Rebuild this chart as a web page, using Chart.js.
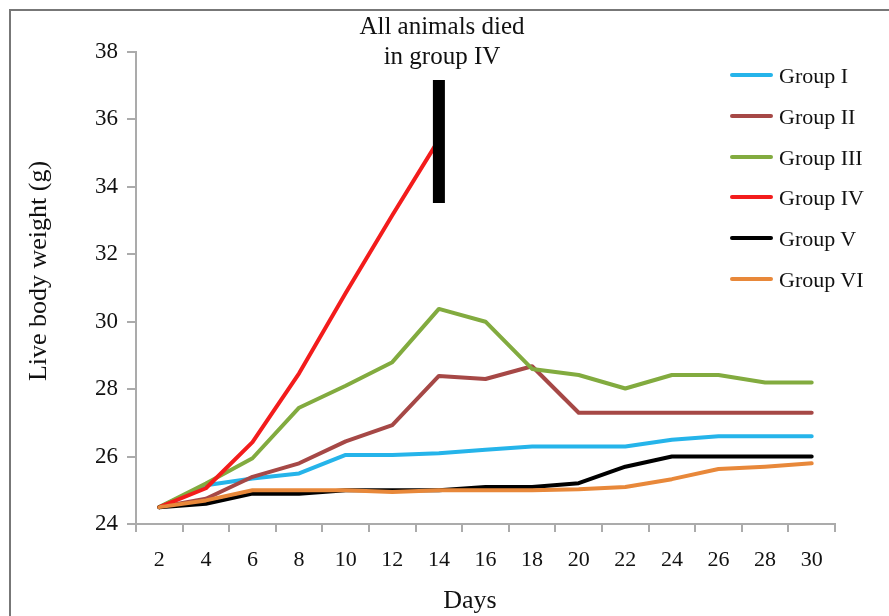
<!DOCTYPE html>
<html>
<head>
<meta charset="utf-8">
<script src="https://cdn.jsdelivr.net/npm/chart.js@4.4.1/dist/chart.umd.min.js"></script>
<style>
  html, body { margin: 0; padding: 0; background: #fff; }
  #wrap { position: relative; width: 889px; height: 616px; overflow: hidden; font-family: "Liberation Serif", "DejaVu Serif", serif; color: #111; }
  #frame { position: absolute; left: 9px; top: 9px; width: 900px; height: 700px; border-left: 2px solid #777; border-top: 2px solid #777; box-sizing: border-box; pointer-events: none; }
  canvas { position: absolute; left: 0; top: 0; }
  .txt { position: absolute; white-space: nowrap; }
  #note { left: 442px; top: 11px; transform: translateX(-50%); text-align: center; font-size: 25px; line-height: 30px; }
  #ytitle { left: 38px; top: 271px; transform: translate(-50%, -50%) rotate(-90deg); font-size: 26px; }
  #xtitle { left: 470px; top: 600px; transform: translate(-50%, -50%); font-size: 26px; }
  #legend { position: absolute; left: 730px; top: 60px; }
  .li { position: absolute; left: 0; height: 30px; width: 160px; }
  .li .sw { position: absolute; left: 0; top: 13px; width: 43px; height: 4px; border-radius: 2px; }
  .li .lb { position: absolute; left: 49px; top: 1px; font-size: 22px; line-height: 30px; }
</style>
</head>
<body>
<div id="wrap">
  <canvas id="c" width="889" height="616"></canvas>
  <div id="frame"></div>
  <div id="note" class="txt">All animals died<br>in group IV</div>
  <div id="ytitle" class="txt">Live body weight (g)</div>
  <div id="xtitle" class="txt">Days</div>
  <div id="legend"></div>
</div>
<script>
const days = ['2','4','6','8','10','12','14','16','18','20','22','24','26','28','30'];
const yTicks = [24, 26, 28, 30, 32, 34, 36, 38];
const groupNames = ['Group I','Group II','Group III','Group IV','Group V','Group VI'];
const groupColors = ['#25b4ea','#a64846','#82ab3f','#f31c1c','#000000','#e8883a'];
const groupI   = [24.5, 25.15, 25.35, 25.5, 26.05, 26.05, 26.1, 26.2, 26.3, 26.3, 26.3, 26.5, 26.6, 26.6, 26.6];
const groupII  = [24.5, 24.75, 25.4, 25.8, 26.45, 26.93, 28.39, 28.3, 28.68, 27.3, 27.3, 27.3, 27.3, 27.3, 27.3];
const groupIII = [24.5, 25.2, 25.95, 27.45, 28.1, 28.8, 30.38, 30.0, 28.6, 28.42, 28.02, 28.42, 28.42, 28.2, 28.2];
const groupIV  = [24.5, 25.06, 26.43, 28.47, 30.85, 33.16, 35.4];
const groupV   = [24.5, 24.6, 24.9, 24.9, 25.0, 25.0, 25.0, 25.1, 25.1, 25.21, 25.7, 26.0, 26.0, 26.0, 26.0];
const groupVI  = [24.5, 24.7, 25.0, 25.0, 25.0, 24.95, 25.0, 25.0, 25.0, 25.03, 25.1, 25.33, 25.63, 25.7, 25.8];
const deathMarkDay = '14';
const deathMarkRange = [33.52, 37.17];

const series = [groupI, groupII, groupIII, groupIV, groupV, groupVI];

const datasets = series.map((d, i) => ({
  label: groupNames[i],
  data: d,
  borderColor: groupColors[i],
  backgroundColor: groupColors[i],
  borderWidth: 4,
  pointRadius: 0,
  pointHoverRadius: 0,
  tension: 0,
  borderJoinStyle: 'round',
  borderCapStyle: 'round',
  fill: false,
  order: 6 - i
}));
datasets.push({
  label: 'death',
  data: deathMarkRange.map(v => ({ x: deathMarkDay, y: v })),
  borderColor: '#000',
  borderWidth: 12,
  borderCapStyle: 'butt',
  pointRadius: 0,
  fill: false,
  order: -1
});

// HTML legend
const leg = document.getElementById('legend');
groupNames.forEach((n, i) => {
  const el = document.createElement('div');
  el.className = 'li';
  el.style.top = (i * 40.8) + 'px';
  el.innerHTML = '<div class="sw" style="background:' + groupColors[i] + '"></div><div class="lb">' + n + '</div>';
  leg.appendChild(el);
});

new Chart(document.getElementById('c'), {
  type: 'line',
  data: { labels: days, datasets },
  options: {
    responsive: false,
    animation: false,
    events: [],
    layout: { padding: { left: 0, top: 52, right: 54, bottom: 0 } },
    plugins: { legend: { display: false }, tooltip: { enabled: false } },
    scales: {
      x: {
        type: 'category',
        offset: true,
        grid: { offset: true, drawOnChartArea: false, drawTicks: true, tickLength: 8, color: '#ababab', lineWidth: 2 },
        border: { color: '#ababab', width: 2 },
        ticks: { font: { family: '"Liberation Serif", serif', size: 22 }, color: '#111', padding: 15, maxRotation: 0, autoSkip: false },
        afterFit: s => { s.height = 92; }
      },
      y: {
        min: 24, max: 38,
        afterBuildTicks: s => { s.ticks = yTicks.map(v => ({ value: v })); },
        grid: { drawOnChartArea: false, drawTicks: true, tickLength: 9, color: '#ababab', lineWidth: 2 },
        border: { color: '#ababab', width: 2 },
        ticks: { font: { family: '"Liberation Serif", serif', size: 23 }, color: '#111', padding: 9 },
        afterFit: s => { s.width = 136; }
      }
    }
  }
});
</script>
</body>
</html>
